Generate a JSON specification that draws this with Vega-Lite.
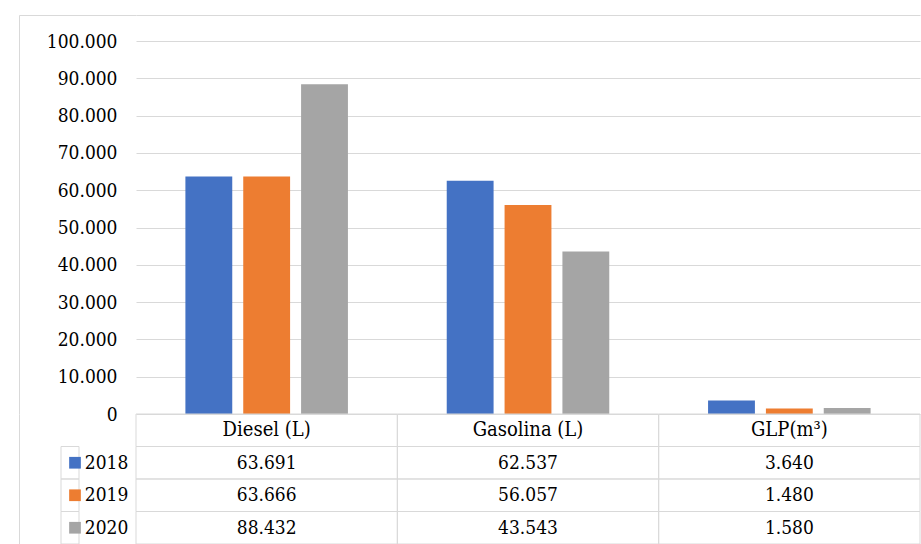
{
  "$schema": "https://vega.github.io/schema/vega-lite/v6.json",
  "padding": {"left": 18, "top": 14, "right": 0, "bottom": 0},
  "columns": 2,
  "spacing": 0,
  "bounds": "flush",
  "resolve": {"scale": {"x": "independent", "y": "independent", "xOffset": "independent"}},
  "data": {
    "values": [
      {"category": "Diesel (L)", "year": "2018", "value": 63691},
      {"category": "Diesel (L)", "year": "2019", "value": 63666},
      {"category": "Diesel (L)", "year": "2020", "value": 88432},
      {"category": "Gasolina (L)", "year": "2018", "value": 62537},
      {"category": "Gasolina (L)", "year": "2019", "value": 56057},
      {"category": "Gasolina (L)", "year": "2020", "value": 43543},
      {"category": "GLP(m³)", "year": "2018", "value": 3640},
      {"category": "GLP(m³)", "year": "2019", "value": 1480},
      {"category": "GLP(m³)", "year": "2020", "value": 1580}
    ]
  },
  "config": {
    "locale": {"number": {"decimal": ",", "thousands": ".", "grouping": [3], "currency": ["", ""]}},
    "view": {"stroke": null},
    "text": {"fontSize": 19, "color": "#000000", "font": "DejaVu Serif Condensed"}
  },
  "concat": [
    {
      "width": 117,
      "height": 399,
      "data": {"values": [{}]},
      "view": {"stroke": "#d9d9d9", "strokeDash": [117, 516, 399]},
      "mark": {"type": "text", "text": ""},
      "encoding": {}
    },
    {
      "width": 784,
      "height": 399,
      "view": {"stroke": "#d9d9d9", "strokeDash": [784, 3000]},
      "mark": {"type": "bar"},
      "encoding": {
        "x": {
          "field": "category", "type": "nominal", "sort": null,
          "scale": {"type": "band", "domain": ["Diesel (L)", "Gasolina (L)", "GLP(m³)"], "paddingInner": 0, "paddingOuter": 0},
          "axis": null
        },
        "xOffset": {
          "field": "year", "type": "nominal",
          "scale": {"type": "band", "domain": ["2018", "2019", "2020"], "paddingInner": 0.19, "paddingOuter": 0.854}
        },
        "y": {
          "field": "value", "type": "quantitative",
          "scale": {"domain": [0, 106971], "nice": false},
          "axis": {
            "values": [0, 10000, 20000, 30000, 40000, 50000, 60000, 70000, 80000, 90000, 100000],
            "format": ",d", "grid": true, "gridColor": "#d9d9d9", "domain": false, "ticks": false,
            "labelPadding": 19, "labelFont": "DejaVu Serif Condensed", "labelFontSize": 19, "labelColor": "#000000",
            "title": null
          }
        },
        "color": {
          "field": "year", "type": "nominal",
          "scale": {"domain": ["2018", "2019", "2020"], "range": ["#4472C4", "#ED7D31", "#A5A5A5"]},
          "legend": null
        }
      }
    },
    {
      "width": 117,
      "height": 130,
      "view": {"stroke": "#d9d9d9", "strokeDash": [0, 364, 130, 0]},
      "transform": [{"filter": "datum.category === 'Diesel (L)'"}],
      "encoding": {
        "x": {
          "datum": "legend", "type": "nominal",
          "scale": {"type": "band", "domain": ["legend"], "paddingInner": 0, "paddingOuter": 0.28, "align": 1},
          "axis": null
        },
        "y": {
          "field": "year", "type": "nominal",
          "scale": {"type": "band", "domain": ["h", "2018", "2019", "2020"], "paddingInner": 0, "paddingOuter": 0},
          "axis": null
        }
      },
      "layer": [
        {"mark": {"type": "rect", "fillOpacity": 0, "stroke": "#d9d9d9", "strokeWidth": 1}},
        {
          "mark": {"type": "point", "shape": "square", "filled": true, "size": 137, "opacity": 1},
          "encoding": {
            "xOffset": {"datum": "swatch", "type": "nominal", "scale": {"type": "point", "domain": ["swatch", "label"], "padding": 0.69, "align": 0.322}},
            "color": {
              "field": "year", "type": "nominal",
              "scale": {"domain": ["2018", "2019", "2020"], "range": ["#4472C4", "#ED7D31", "#A5A5A5"]},
              "legend": null
            }
          }
        },
        {
          "mark": {"type": "text"},
          "encoding": {
            "xOffset": {"datum": "label", "type": "nominal"},
            "text": {"field": "year", "type": "nominal"}
          }
        }
      ]
    },
    {
      "width": 784,
      "height": 130,
      "encoding": {
        "x": {
          "field": "category", "type": "nominal", "sort": null,
          "scale": {"type": "band", "domain": ["Diesel (L)", "Gasolina (L)", "GLP(m³)"], "paddingInner": 0, "paddingOuter": 0},
          "axis": null
        }
      },
      "layer": [
        {
          "mark": {"type": "rect", "fillOpacity": 0, "stroke": "#d9d9d9", "strokeWidth": 1},
          "encoding": {
            "y": {"field": "year", "type": "nominal", "scale": {"type": "band", "domain": ["h", "2018", "2019", "2020"], "paddingInner": 0, "paddingOuter": 0}, "axis": null}
          }
        },
        {
          "transform": [{"filter": "datum.year === '2018'"}],
          "mark": {"type": "rect", "fillOpacity": 0, "stroke": "#d9d9d9", "strokeWidth": 1},
          "encoding": {
            "y": {"datum": "h", "type": "nominal"}
          }
        },
        {
          "mark": {"type": "text"},
          "encoding": {
            "y": {"field": "year", "type": "nominal"},
            "text": {"field": "value", "type": "quantitative", "format": ",d"}
          }
        },
        {
          "transform": [{"filter": "datum.year === '2018'"}],
          "mark": {"type": "text", "fontSize": 20},
          "encoding": {
            "y": {"datum": "h", "type": "nominal"},
            "text": {"field": "category", "type": "nominal"}
          }
        }
      ]
    }
  ]
}
